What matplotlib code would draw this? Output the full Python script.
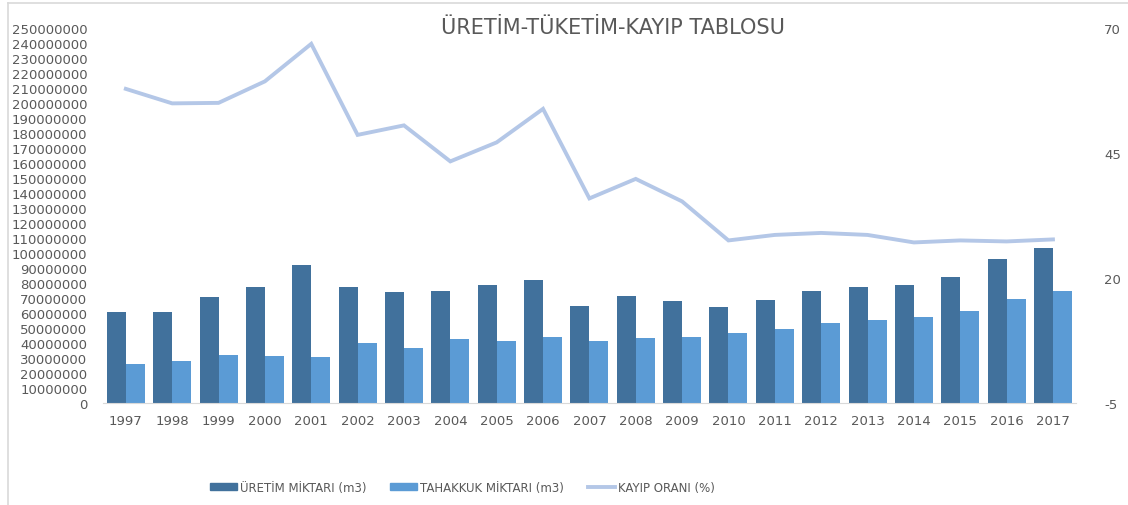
import numpy as np
import matplotlib.pyplot as plt
from matplotlib.lines import Line2D
from matplotlib.patches import Patch

plt.rcParams['axes.unicode_minus'] = False

years = [str(y) for y in range(1997, 2018)]
uretim = [60.9e6, 60.9e6, 70.4e6, 77.1e6, 92.0e6, 77.1e6, 73.8e6, 74.4e6, 78.9e6, 82.0e6,
          64.9e6, 71.6e6, 68.0e6, 64.2e6, 68.7e6, 74.9e6, 77.1e6, 78.9e6, 83.8e6, 95.8e6, 103.1e6]
tahakkuk = [26.0e6, 27.8e6, 32.0e6, 31.3e6, 30.4e6, 39.8e6, 36.7e6, 42.4e6, 41.6e6, 44.2e6,
            41.6e6, 43.3e6, 44.2e6, 46.4e6, 49.1e6, 53.1e6, 55.3e6, 57.1e6, 61.1e6, 69.6e6, 74.9e6]
kayip = [57.8, 54.9, 55.0, 59.3, 66.8, 48.6, 50.5, 43.3, 47.1, 53.8,
         35.9, 39.8, 35.3, 27.5, 28.6, 29.0, 28.6, 27.1, 27.5, 27.3, 27.7]

c_dark = '#41719c'
c_light = '#5b9bd5'
c_line = '#b4c7e7'
c_text = '#595959'

fig = plt.figure(figsize=(11.28, 5.06), dpi=100)
ax = fig.add_axes([0.091, 0.2016, 0.863, 0.7414])
x = np.arange(len(years))
w = 0.41
ax.bar(x - w / 2, uretim, width=w, color=c_dark, zorder=2)
ax.bar(x + w / 2, tahakkuk, width=w, color=c_light, zorder=2)
ax.set_xlim(-0.5, len(years) - 0.5)
ax.set_ylim(0, 250e6)
ax.set_yticks(np.arange(0, 250e6 + 1, 10e6))
ax.set_yticklabels([f'{int(v)}' for v in np.arange(0, 250e6 + 1, 10e6)])
ax.set_xticks(x)
ax.set_xticklabels(years)
for s in ['top', 'right', 'left']:
    ax.spines[s].set_visible(False)
ax.spines['bottom'].set_color('#d9d9d9')
ax.tick_params(length=0, colors=c_text, labelsize=9.5)
ax.tick_params(axis='x', pad=8)
ax.tick_params(axis='y', pad=11)

ax2 = ax.twinx()
ax2.plot(x, kayip, color=c_line, lw=2.8, solid_joinstyle='miter')
ax2.set_ylim(-5, 70)
ax2.set_yticks([-5, 20, 45, 70])
for s in ax2.spines.values():
    s.set_visible(False)
ax2.tick_params(length=0, colors=c_text, labelsize=9.5, pad=20)

fig.text(0.543, 0.944, 'ÜRETİM-TÜKETİM-KAYIP TABLOSU', ha='center', va='center',
         fontsize=15, color=c_text)

handles = [Patch(color=c_dark), Patch(color=c_light), Line2D([], [], color=c_line, lw=2.8)]
labels = ['ÜRETİM MİKTARI (m3)', 'TAHAKKUK MİKTARI (m3)', 'KAYIP ORANI (%)']
fig.legend(handles, labels, loc='center', bbox_to_anchor=(0.41, 0.035), ncol=3, frameon=False,
           fontsize=8.5, labelcolor=c_text, handlelength=2.3, handleheight=0.55,
           handletextpad=0.25, columnspacing=2.0)

# chart border
fig.add_artist(Line2D([0.007, 1], [0.992, 0.992], color='#d9d9d9', lw=1.2))
fig.add_artist(Line2D([0.007, 0.007], [0, 0.992], color='#d9d9d9', lw=1.2))

fig.savefig('out.png', dpi=100)
